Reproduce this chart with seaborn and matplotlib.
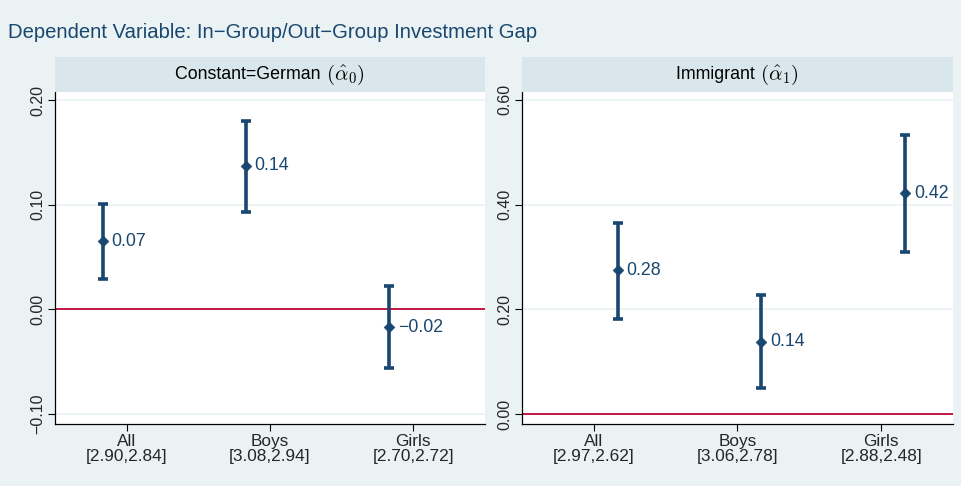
import numpy as np
import pandas as pd
import matplotlib
matplotlib.use("Agg")
import matplotlib.pyplot as plt
import seaborn as sns

# Data
groups = ["All", "Boys", "Girls"]

german_means = ["[2.90,2.84]", "[3.08,2.94]", "[2.70,2.72]"]
german_est = [0.065, 0.137, -0.017]
german_lo = [0.029, 0.093, -0.056]
german_hi = [0.101, 0.180, 0.022]

immig_means = ["[2.97,2.62]", "[3.06,2.78]", "[2.88,2.48]"]
immig_est = [0.275, 0.138, 0.422]
immig_lo = [0.181, 0.050, 0.309]
immig_hi = [0.365, 0.227, 0.533]

BG = "#eaf2f3"
STRIP = "#d9e6eb"
NAVY = "#1a476f"
RED = "#c10534"

sns.set_theme(style="white")
plt.rcParams["font.family"] = ["Liberation Sans", "DejaVu Sans"]
plt.rcParams["mathtext.fontset"] = "cm"

fig = plt.figure(figsize=(9.62, 4.86), dpi=100, facecolor=BG)

fig.text(8 / 962, 1 - 33 / 486, "Dependent Variable: In\u2212Group/Out\u2212Group Investment Gap",
         color=NAVY, fontsize=14.6, va="center", ha="left")

panels = [
    dict(title="Constant=German", sym=r"$(\hat{\alpha}_0)$", est=german_est, lo=german_lo,
         hi=german_hi, means=german_means, left=55, right=485, shift=-0.167,
         ylim=(-0.1096, 0.2077), ticks=[-0.1, 0.0, 0.1, 0.2]),
    dict(title="Immigrant", sym=r"$(\hat{\alpha}_1)$", est=immig_est, lo=immig_lo,
         hi=immig_hi, means=immig_means, left=522, right=953, shift=0.167,
         ylim=(-0.019, 0.615), ticks=[0.0, 0.2, 0.4, 0.6]),
]

W, H = 962, 486
for p in panels:
    l = p["left"] / W
    w = (p["right"] - p["left"]) / W
    ax = fig.add_axes([l, 1 - 424 / H, w, (424 - 92) / H])
    sax = fig.add_axes([l, 1 - 92 / H, w, (92 - 57) / H])
    sax.set_facecolor(STRIP)
    sax.set_xticks([])
    sax.set_yticks([])
    for s in sax.spines.values():
        s.set_visible(False)
    t1 = sax.text(0.5, 0.5, p["title"] + " ", ha="right", va="center", fontsize=12.8,
                  color="black", transform=sax.transAxes)
    t2 = sax.text(0.5, 0.5, p["sym"], ha="left", va="center", fontsize=15, color="black",
                  transform=sax.transAxes)
    # center the combined label
    fig.canvas.draw()
    r = fig.canvas.get_renderer()
    w1 = t1.get_window_extent(r).width
    w2 = t2.get_window_extent(r).width
    ax_w = sax.get_window_extent(r).width
    off = (w1 - w2) / 2 / ax_w
    t1.set_x(0.5 + off)
    t2.set_x(0.5 + off)

    df = pd.DataFrame({"x": np.arange(len(groups)) + p["shift"], "est": p["est"],
                       "lo": p["lo"], "hi": p["hi"]})
    ax.set_facecolor("white")
    for t in p["ticks"]:
        ax.axhline(t, color=BG, lw=1.2, zorder=0)
    ax.axhline(0, color=RED, lw=1.3, zorder=1)
    ax.errorbar(df["x"], df["est"], yerr=[df["est"] - df["lo"], df["hi"] - df["est"]],
                fmt="none", ecolor=NAVY, elinewidth=2.6, capsize=3.4, capthick=2.6, zorder=2)
    sns.scatterplot(data=df, x="x", y="est", marker="D", color=NAVY, s=30,
                    edgecolor=NAVY, ax=ax, zorder=3, legend=False)
    for _, row in df.iterrows():
        ax.text(row["x"] + 0.06, row["est"], f"{row['est']:.2f}".replace("-", "\u2212"),
                color=NAVY, fontsize=12.8, va="center", ha="left")

    ax.set_xlim(-0.5, 2.5)
    ax.set_ylim(*p["ylim"])
    ax.set_xticks(range(len(groups)))
    ax.set_xticklabels([f"{g}\n{m}" for g, m in zip(groups, p["means"])], fontsize=12.4,
                       linespacing=1.0)
    ax.set_yticks(p["ticks"])
    ax.set_yticklabels([f"{t:.2f}".replace("-", "\u2212") for t in p["ticks"]], rotation=90,
                       va="center", fontsize=11.5)
    ax.tick_params(axis="both", which="major", length=5, width=0.8, color="black",
                   bottom=True, left=True, pad=2)
    ax.set_xlabel("")
    ax.set_ylabel("")
    for side in ["top", "right"]:
        ax.spines[side].set_visible(False)
    for side in ["left", "bottom"]:
        ax.spines[side].set_color("black")
        ax.spines[side].set_linewidth(0.9)

fig.savefig("out.png", dpi=100, facecolor=BG)
